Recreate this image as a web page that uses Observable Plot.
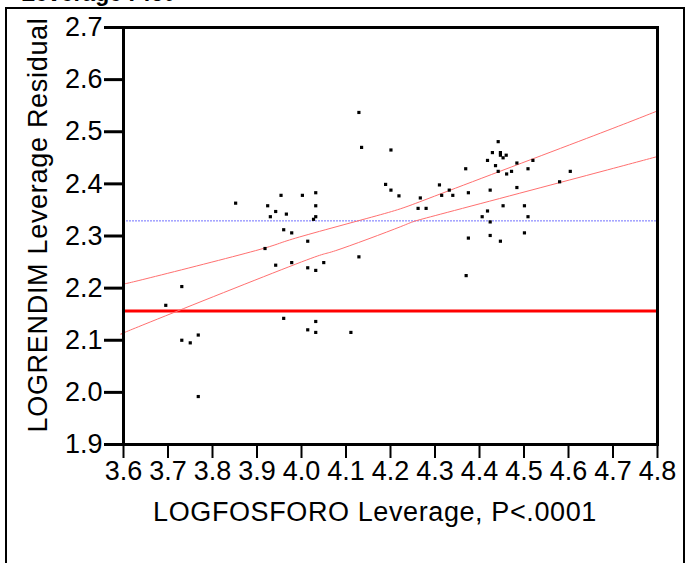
<!DOCTYPE html>
<html>
<head>
<meta charset="utf-8">
<script src="https://cdn.jsdelivr.net/npm/d3@7"></script>
<script src="https://cdn.jsdelivr.net/npm/@observablehq/plot@0.6"></script>
<style>
  html, body { margin: 0; padding: 0; background: white; }
  #chart svg { display: block; }
</style>
</head>
<body>
<div id="chart"></div>
<script>
// Leverage plot data
const logFosforo = [3.852,3.954,3.924,3.942,3.930,3.966,3.960,3.978,3.918,4.129,4.135,4.201,4.002,4.032,4.032,4.032,4.027,4.189,4.201,4.219,4.310,4.267,4.262,4.280,4.014,4.315,4.442,4.429,4.447,4.447,4.453,4.460,4.418,4.436,4.484,4.520,4.369,4.442,4.472,4.461,4.509,4.604,4.580,4.484,4.332,4.424,4.340,4.375,4.453,4.501,4.418,4.406,4.509,4.424,4.375,4.424,4.447,4.501,4.370,3.731,3.695,3.942,3.978,3.960,3.768,3.731,3.750,3.768,4.050,4.014,4.032,4.129,4.032,4.014,4.032,4.111];
const logRendim = [2.363,2.378,2.358,2.347,2.337,2.342,2.312,2.306,2.276,2.537,2.470,2.465,2.378,2.383,2.358,2.337,2.332,2.399,2.388,2.377,2.398,2.373,2.353,2.353,2.290,2.378,2.481,2.460,2.460,2.455,2.450,2.455,2.445,2.435,2.440,2.445,2.429,2.424,2.424,2.419,2.429,2.424,2.404,2.393,2.388,2.388,2.378,2.383,2.358,2.358,2.348,2.337,2.337,2.327,2.296,2.301,2.290,2.306,2.224,2.203,2.167,2.244,2.249,2.142,2.110,2.100,2.095,1.992,2.249,2.239,2.234,2.260,2.136,2.120,2.115,2.115];

// Confidence curves (read at several positions)
const upperCurveX = [3.6, 3.660, 3.897, 3.987, 4.178, 4.313, 4.640, 4.8];
const upperCurveY = [2.208, 2.220, 2.272, 2.296, 2.341, 2.381, 2.487, 2.540];
const lowerCurveX = [3.6, 3.660, 3.987, 4.077, 4.223, 4.313, 4.640, 4.8];
const lowerCurveY = [2.1135, 2.135, 2.246, 2.272, 2.318, 2.342, 2.416, 2.4525];

// Reference lines
const redLineY = [2.156];
const blueLineY = [2.329];

// Ticks
const xTicks = [3.6,3.7,3.8,3.9,4.0,4.1,4.2,4.3,4.4,4.5,4.6,4.7,4.8];
const yTicks = [1.9,2.0,2.1,2.2,2.3,2.4,2.5,2.6,2.7];

const points = logFosforo.map((x, i) => ({x, y: logRendim[i]}));
const upper = upperCurveX.map((x, i) => ({x, y: upperCurveY[i]}));
const lower = lowerCurveX.map((x, i) => ({x, y: lowerCurveY[i]}));

const FONT = "'Liberation Sans', Arial, Helvetica, sans-serif";

const chart = Plot.plot({
  width: 686,
  height: 563,
  marginLeft: 123,
  marginRight: 29,
  marginTop: 27,
  marginBottom: 119,
  style: {fontFamily: FONT, background: "white", color: "black"},
  x: {domain: [3.6, 4.8]},
  y: {domain: [1.9, 2.7]},
  marks: [
    Plot.ruleY(blueLineY, {stroke: "#7070ff", strokeWidth: 1, strokeDasharray: "2,1"}),
    Plot.ruleY(redLineY, {stroke: "#ff0000", strokeWidth: 3}),
    Plot.line(upper, {x: "x", y: "y", stroke: "#ff7070", strokeWidth: 1, curve: "natural"}),
    Plot.line(lower, {x: "x", y: "y", stroke: "#ff7070", strokeWidth: 1, curve: "natural"}),
    Plot.dot(points, {x: "x", y: "y", symbol: "square", r: 1.8, fill: "black", stroke: null}),
    Plot.frame({stroke: "black", strokeWidth: 3}),
    Plot.axisX({ticks: xTicks, tickFormat: d3.format(".1f"), tickSize: 14, tickPadding: 2, fontSize: 27, strokeWidth: 2, label: null}),
    Plot.axisY({ticks: yTicks, tickFormat: d3.format(".1f"), tickSize: 19, tickPadding: 2, fontSize: 27, strokeWidth: 3, label: null})
  ]
});

const svg = d3.select(chart);
// outer box
svg.append("rect")
  .attr("x", 6).attr("y", 8).attr("width", 678).attr("height", 600)
  .attr("fill", "none").attr("stroke", "black").attr("stroke-width", 2);
// title (cut by the top edge as in the reference)
svg.append("text")
  .attr("x", 21).attr("y", 1)
  .attr("font-family", FONT).attr("font-size", 23).attr("font-weight", "bold")
  .attr("text-anchor", "start").attr("fill", "black")
  .text("Leverage Plot");
// y axis title
svg.append("text")
  .attr("transform", "translate(47,225) rotate(-90)")
  .attr("font-family", FONT).attr("font-size", 27).attr("letter-spacing", "0.7px")
  .attr("text-anchor", "middle").attr("fill", "black")
  .text("LOGRENDIM Leverage Residual");
// x axis title
svg.append("text")
  .attr("x", 375).attr("y", 521)
  .attr("font-family", FONT).attr("font-size", 27).attr("letter-spacing", "0.6px")
  .attr("text-anchor", "middle").attr("fill", "black")
  .text("LOGFOSFORO Leverage, P<.0001");

document.getElementById("chart").appendChild(chart);
</script>
</body>
</html>
